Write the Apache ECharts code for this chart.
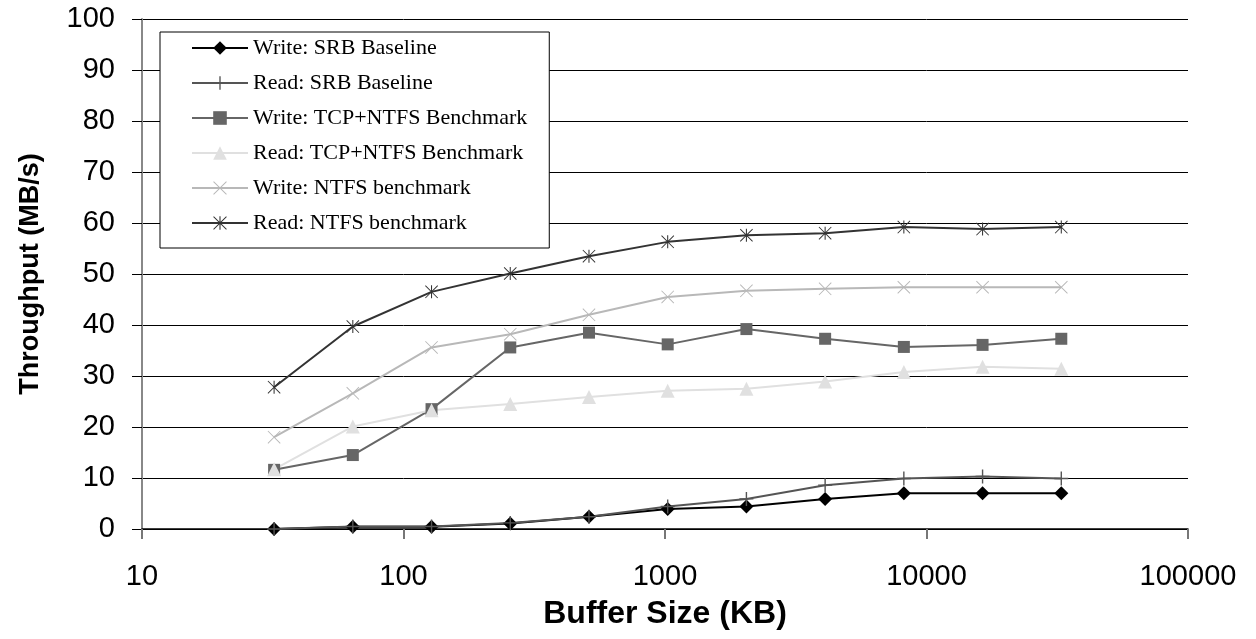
<!DOCTYPE html>
<html>
<head>
<meta charset="utf-8">
<script src="https://cdn.jsdelivr.net/npm/echarts@6/dist/echarts.min.js"></script>
<style>
  html, body { margin: 0; padding: 0; background: #fff; }
  #chart { width: 1256px; height: 639px; }
</style>
</head>
<body>
<div id="chart"></div>
<script>
// buffer sizes (KB)
const bufferSizes = [32, 64, 128, 256, 512, 1024, 2048, 4096, 8192, 16384, 32768];

const writeSrb     = [0, 0.45, 0.45, 1.1, 2.4, 3.9, 4.4, 5.9, 7.0, 7.0, 7.0];
const readSrb      = [0, 0.5, 0.5, 1.2, 2.4, 4.4, 5.9, 8.6, 9.9, 10.3, 9.9];
const writeTcpNtfs = [11.6, 14.5, 23.5, 35.6, 38.5, 36.2, 39.2, 37.3, 35.7, 36.1, 37.3];
const readTcpNtfs  = [11.7, 20.1, 23.3, 24.5, 25.9, 27.1, 27.5, 28.9, 30.8, 31.8, 31.4];
const writeNtfs    = [18.0, 26.6, 35.6, 38.2, 42.0, 45.5, 46.7, 47.1, 47.4, 47.4, 47.4];
const readNtfs     = [27.8, 39.7, 46.5, 50.1, 53.5, 56.3, 57.6, 58.0, 59.2, 58.8, 59.2];

const seriesNames = [
  'Write: SRB Baseline',
  'Read: SRB Baseline',
  'Write: TCP+NTFS Benchmark',
  'Read: TCP+NTFS Benchmark',
  'Write: NTFS benchmark',
  'Read: NTFS benchmark'
];

const PLUS = 'path://M9,0 L11,0 L11,20 L9,20 Z M0,9 L20,9 L20,11 L0,11 Z';
const CROSS = 'path://M0,1 L1,0 L20,19 L19,20 Z M19,0 L20,1 L1,20 L0,19 Z';
const STAR = 'path://M0,1 L1,0 L20,19 L19,20 Z M19,0 L20,1 L1,20 L0,19 Z M9.2,0 L10.8,0 L10.8,20 L9.2,20 Z';

const pairs = (vals) => bufferSizes.map((x, i) => [x, vals[i]]);

const mk = (name, vals, color, symbol, size) => ({
  name: name,
  type: 'line',
  data: pairs(vals),
  symbol: symbol,
  symbolSize: size,
  showAllSymbol: true,
  lineStyle: { color: color, width: 2 },
  itemStyle: { color: color },
  emphasis: { disabled: true },
  animation: false
});

var myChart = echarts.init(document.getElementById('chart'));

var option = {
  backgroundColor: '#fff',
  grid: { left: 142, right: 68, top: 19, bottom: 110, containLabel: false },
  legend: {
    orient: 'vertical',
    left: 160,
    top: 32,
    padding: [5, 22, 14, 31],
    itemGap: 13,
    itemWidth: 56,
    itemHeight: 17,
    borderColor: '#000',
    borderWidth: 1,
    backgroundColor: '#fff',
    textStyle: { fontFamily: 'Liberation Serif', fontSize: 22, color: '#000', lineHeight: 22 },
    data: seriesNames
  },
  xAxis: {
    type: 'log',
    logBase: 10,
    min: 10,
    max: 100000,
    name: 'Buffer Size (KB)',
    nameLocation: 'middle',
    nameGap: 69,
    nameTextStyle: { fontFamily: 'Liberation Sans', fontSize: 32, lineHeight: 32, fontWeight: 'bold', color: '#000' },
    axisLine: { lineStyle: { color: '#000', width: 1.5 } },
    axisTick: { show: true, inside: false, length: 10, lineStyle: { color: '#777', width: 2 } },
    axisLabel: {
      margin: 33, fontFamily: 'Liberation Sans', fontSize: 29, lineHeight: 29, color: '#000',
      formatter: (v) => String(Math.round(v))
    },
    splitLine: { show: false },
    minorTick: { show: false }
  },
  yAxis: {
    type: 'value',
    min: 0,
    max: 100,
    interval: 10,
    name: 'Throughput (MB/s)',
    nameLocation: 'middle',
    nameGap: 98,
    nameTextStyle: { fontFamily: 'Liberation Sans', fontSize: 27, lineHeight: 27, fontWeight: 'bold', color: '#000' },
    axisLine: { show: true, lineStyle: { color: '#888', width: 2 } },
    axisTick: { show: true, inside: false, length: 10, lineStyle: { color: '#000', width: 1 } },
    axisLabel: { margin: 27, fontFamily: 'Liberation Sans', fontSize: 29, color: '#000' },
    splitLine: { show: true, lineStyle: { color: '#000', width: 1 } }
  },
  series: [
    mk(seriesNames[0], writeSrb, '#000000', 'diamond', 14),
    mk(seriesNames[1], readSrb, '#555555', PLUS, 14),
    mk(seriesNames[2], writeTcpNtfs, '#666666', 'rect', 12),
    mk(seriesNames[3], readTcpNtfs, '#e0e0e0', 'triangle', 14),
    mk(seriesNames[4], writeNtfs, '#b8b8b8', CROSS, 13),
    mk(seriesNames[5], readNtfs, '#333333', STAR, 13)
  ]
};

myChart.setOption(option);
</script>
</body>
</html>
